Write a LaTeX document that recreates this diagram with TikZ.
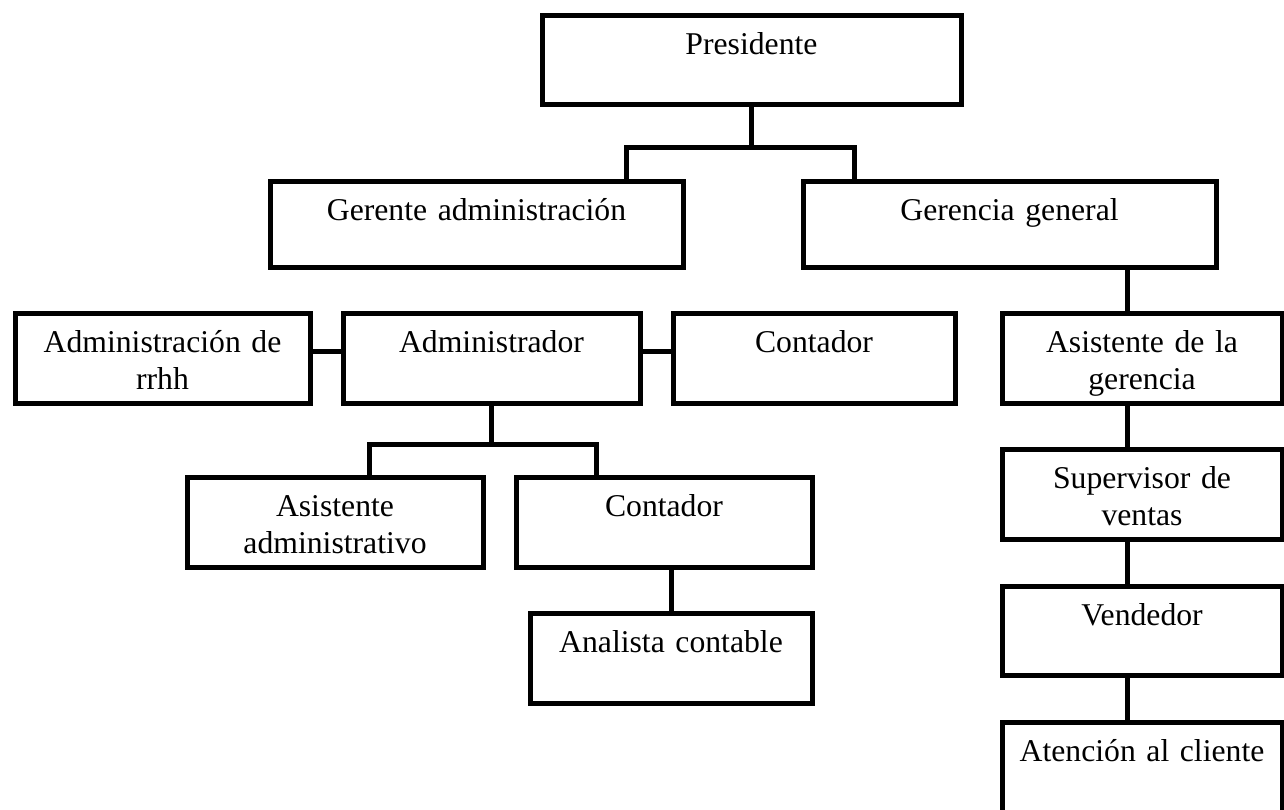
\documentclass[tikz,border=0pt]{standalone}
\usepackage{fontspec}
\setmainfont{Liberation Serif}
\begin{document}
\begin{tikzpicture}[
  x=0.5pt, y=-0.5pt,
  every node/.style={font=\fontsize{15.85}{18.5}\selectfont, align=center},
  puesto/.style={draw=black, line width=2.5pt, inner sep=0pt, anchor=north west, text height=19.75pt, text depth=25.25pt},
  linea/.style={line width=2.5pt, draw=black}
]
\useasboundingbox (0,0) rectangle (1284,809);
\node[puesto, text width=209.5pt, text depth=24.75pt] (pres) at (539.5,12.5) {Presidente};
\node[puesto, text width=206.5pt, text depth=23.25pt] (geradm) at (267.5,178.5) {Gerente administración};
\node[puesto, text width=206.5pt, text depth=23.25pt] (gergen) at (800.5,178.5) {Gerencia general};
\node[puesto, text width=147.5pt] (rrhh) at (12.5,310.5) {Administración de\\rrhh};
\node[puesto, text width=148.5pt] (admr) at (340.5,310.5) {Administrador};
\node[puesto, text width=141pt] (cont) at (670.5,310.5) {Contador};
\node[puesto, text width=140pt] (asisger) at (999.5,310.5) {Asistente de la\\gerencia};
\node[puesto, text width=148pt] (asisadm) at (184.5,474.5) {Asistente\\administrativo};
\node[puesto, text width=148pt] (cont2) at (513.5,474.5) {Contador};
\node[puesto, text width=141pt] (anal) at (527.5,610.5) {Analista contable};
\node[puesto, text width=140pt] (sup) at (999.5,446.5) {Supervisor de\\ventas};
\node[puesto, text width=140pt, text depth=24.75pt] (vend) at (999.5,583.5) {Vendedor};
\node[puesto, text width=140pt] (aten) at (999.5,719.5) {Atención al cliente};
\coordinate (b1) at (626,147);
\coordinate (b2) at (854,147);
\draw[linea] (pres.south) -- (pres.south |- b1);
\draw[linea] (b1 |- geradm.north) -- (b1) -- (b2) -- (b2 |- gergen.north);
\draw[linea] ([yshift=3.25pt]rrhh.east) -- ([yshift=3.25pt]admr.west);
\draw[linea] ([yshift=3.25pt]admr.east) -- ([yshift=3.25pt]cont.west);
\coordinate (b3) at (369,444);
\coordinate (b4) at (596,444);
\draw[linea] (admr.south) -- (admr.south |- b3);
\draw[linea] (b3 |- asisadm.north) -- (b3) -- (b4) -- (b4 |- cont2.north);
\draw[linea] (cont2.south -| anal.north) -- (anal.north);
\coordinate (eje) at (1127,0);
\foreach \a/\b in {gergen/asisger, asisger/sup, sup/vend, vend/aten}
  \draw[linea] (\a.south -| eje) -- (\b.north -| eje);
\end{tikzpicture}
\end{document}
